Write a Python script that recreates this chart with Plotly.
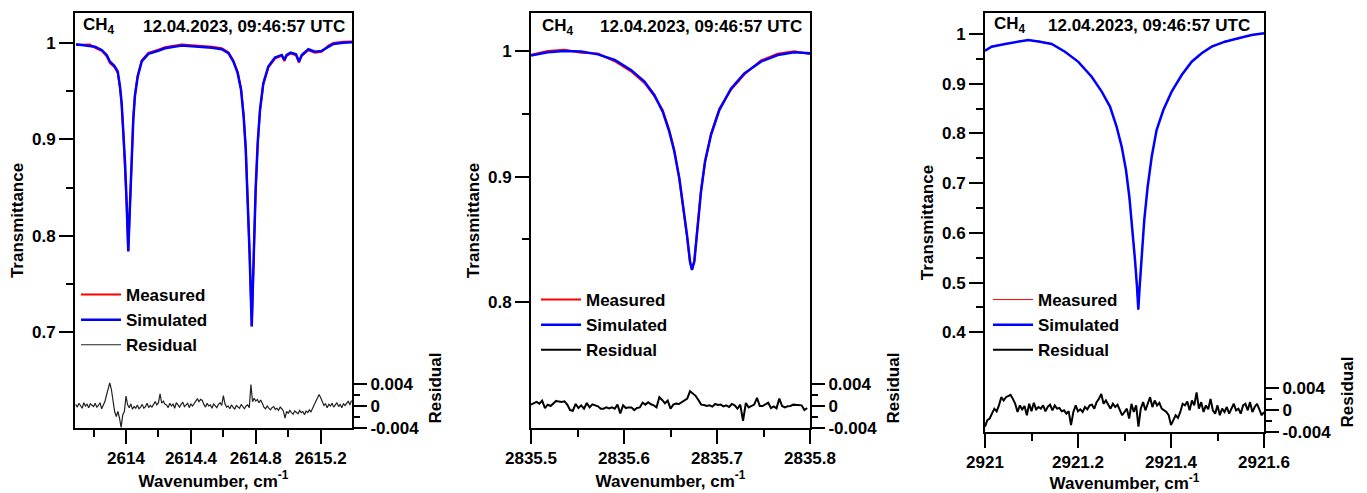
import plotly.graph_objects as go

W, H = 1367, 493

# ---------------- data ----------------
header_species = "CH<sub>4</sub>"
header_time = "12.04.2023, 09:46:57 UTC"
legend_names = ["Measured", "Simulated", "Residual"]

# Panel 1 (2613.7 - 2615.4 cm-1)
wn1 = [2613.692, 2613.778, 2613.809, 2613.850, 2613.881, 2613.901, 2613.928, 2613.949,
       2613.963, 2613.973, 2613.983, 2613.994, 2614.004, 2614.014, 2614.025, 2614.035,
       2614.045, 2614.055, 2614.072, 2614.097, 2614.138, 2614.199, 2614.240, 2614.343,
       2614.400, 2614.466, 2614.530, 2614.590, 2614.631, 2614.661, 2614.688, 2614.709,
       2614.725, 2614.738, 2614.750, 2614.762, 2614.775, 2614.787, 2614.799, 2614.812,
       2614.826, 2614.846, 2614.877, 2614.918, 2614.960, 2614.976, 2614.990, 2615.015,
       2615.048, 2615.066, 2615.083, 2615.124, 2615.165, 2615.206, 2615.247, 2615.278,
       2615.339, 2615.393]
sim1 = [0.9987, 0.9972, 0.9962, 0.9928, 0.9876, 0.9807, 0.9763, 0.9705,
        0.9550, 0.9380, 0.9100, 0.8760, 0.8340, 0.7840, 0.8340, 0.8830,
        0.9210, 0.9450, 0.9650, 0.9810, 0.9887, 0.9920, 0.9945, 0.9973,
        0.9968, 0.9962, 0.9950, 0.9935, 0.9894, 0.9810, 0.9690, 0.9515,
        0.9240, 0.8900, 0.8420, 0.7800, 0.7060, 0.7800, 0.8480, 0.8970,
        0.9310, 0.9580, 0.9756, 0.9850, 0.9876, 0.9825, 0.9876, 0.9900,
        0.9883, 0.9807, 0.9876, 0.9935, 0.9910, 0.9918, 0.9962, 0.9990,
        1.0003, 1.0007]
meas1 = [0.9980, 0.9985, 0.9950, 0.9918, 0.9862, 0.9790, 0.9752, 0.9690,
         0.9532, 0.9365, 0.9085, 0.8748, 0.8325, 0.7838, 0.8352, 0.8845,
         0.9222, 0.9462, 0.9664, 0.9822, 0.9898, 0.9931, 0.9956, 0.9984,
         0.9978, 0.9973, 0.9961, 0.9946, 0.9905, 0.9822, 0.9702, 0.9528,
         0.9252, 0.8912, 0.8432, 0.7810, 0.7062, 0.7812, 0.8468, 0.8958,
         0.9298, 0.9568, 0.9744, 0.9838, 0.9866, 0.9812, 0.9866, 0.9890,
         0.9872, 0.9796, 0.9866, 0.9925, 0.9900, 0.9908, 0.9972, 1.0001,
         1.0014, 1.0016]
# residual, units of 1e-4, sampled every 0.01 cm-1 from 2613.69
res1_start, res1_step = 2613.69, 0.01
res1_e4 = [3, -2, 5, 1, -4, 6, 0, 3, -3, 4, 2, -1, 5, -2, 1, 6, -5, 2,
           8, 20, 30, 42, 30, 12, -10, -19, -10, -22, -39, -16, -10, 18, 2,
           -3, 4, -6, -1, -4, 2, -5, -2, 3, -4, -1, 5, -3, 1, -2,
           4, 8, 2, 6, 22, 5, 9, 3,
           2, -3, 5, 0, 4, -4, 6, 1, -2, 3, 7, -1, 2, 5, -3, 4, 0, 6,
           9, 13, 8, 12, 10,
           3, -2, 5, 0, 2, -4, 4, 1, -3, 3, 6, 1,
           19,
           4, -2, 0, -5, 2, -3, -6, 1, -2, -4, 3, -1, -5, 0, 2, -3,
           39,
           8, 14, 9, 12, 6, 11, 5,
           -2, -5, 0, -4, -7, -3, -1, -6, -4, -8, -2, -5, -9,
           -22,
           -10, -13, -8, -12, -15, -9, -11, -14, -8, -12, -10, -16, -9, -12, -7, -11,
           -4, 2, 8, 14,
           21, 15,
           6, 1, 4, -3, 3, 0, 5, -2, 2, 6, -1, 3, -3, 4, 1, 5, 9, 2, 10]

# Panel 2 (2835.5 - 2835.8 cm-1)
wn2 = [2835.5000, 2835.5180, 2835.5360, 2835.5540, 2835.5720, 2835.5900, 2835.6075,
       2835.6220, 2835.6326, 2835.6416, 2835.6487, 2835.6541, 2835.6595, 2835.6642,
       2835.6677, 2835.6710, 2835.6731, 2835.6756, 2835.6792, 2835.6828, 2835.6871,
       2835.6935, 2835.7025, 2835.7150, 2835.7294, 2835.7473, 2835.7653, 2835.7831,
       2835.8000]
sim2 = [0.9963, 0.9990, 1.0000, 0.9995, 0.9973, 0.9928, 0.9849,
        0.9756, 0.9650, 0.9517, 0.9358, 0.9200, 0.8987, 0.8749,
        0.8536, 0.8324, 0.8258, 0.8324, 0.8590, 0.8880, 0.9120,
        0.9330, 0.9530, 0.9700, 0.9822, 0.9915, 0.9968, 0.9990,
        0.9982]
meas2 = [0.9970, 1.0000, 1.0009, 0.9985, 0.9980, 0.9918, 0.9838,
         0.9745, 0.9640, 0.9530, 0.9370, 0.9212, 0.8978, 0.8740,
         0.8528, 0.8316, 0.8262, 0.8332, 0.8598, 0.8890, 0.9110,
         0.9342, 0.9540, 0.9690, 0.9812, 0.9925, 0.9978, 0.9998,
         0.9975]
res2_start, res2_step = 2835.500, 0.003
res2_e4 = [2.5, 5.5, 7.4, 4.3, 9.8, -3.7, 2.5, 0, 5.5, 9.2,
           8, 7.4, 8.6, 2.5, -7.4, -8.6, 3.7, -3.7, 1.2, -4.9,
           5.5, -2.5, 3.1, 1.8, -0.6, -4.9, -4.9, -2.5, -4.3, -2.5,
           -4.9, 2.5, -13.5, 1.2, -3.7, -2.5, -2.5, -7.4, -3.7, -2.5,
           6.2, 2.5, 6.8, 3.1, 1.2, -2.5, 16, 11, 4.9, 9.8,
           -4.9, 2.5, 4.3, 3.7, 7.4, 11, 13.5, 27, 23.4, 18.5,
           11, 2.5, 1.8, 0, 1.2, -1.2, 3.7, 1.8, 2.5, -0.6,
           1.2, -1.8, 3.7, 1.2, -4.9, 2.5, -27, 5.5, -2.5, 0,
           2.5, 14.8, 0, 0, 2.5, 6.2, -3.7, -0.6, -4.3, 13.5,
           0, -2.5, -0.6, 0, 2.5, 2.5, 1.8, 1.2, -7.4, -3.7]

# Panel 3 (2921.0 - 2921.6 cm-1)
wn3 = [2921.0000, 2921.0143, 2921.0430, 2921.0717, 2921.0930, 2921.1180, 2921.1434,
       2921.1720, 2921.2007, 2921.2294, 2921.2510, 2921.2688, 2921.2830, 2921.2940,
       2921.3032, 2921.3104, 2921.3168, 2921.3226, 2921.3269, 2921.3297, 2921.3326,
       2921.3370, 2921.3425, 2921.3498, 2921.3585, 2921.3690, 2921.3835, 2921.4014,
       2921.4230, 2921.4445, 2921.4660, 2921.4875, 2921.5160, 2921.5447, 2921.5735,
       2921.6000]
sim3 = [0.9664, 0.9745, 0.9800, 0.9840, 0.9880, 0.9845, 0.9800,
        0.9644, 0.9440, 0.9140, 0.8840, 0.8540, 0.8135, 0.7734,
        0.7264, 0.6727, 0.6123, 0.5453, 0.4916, 0.4460, 0.4916,
        0.5587, 0.6258, 0.6928, 0.7531, 0.8068, 0.8470, 0.8840,
        0.9175, 0.9443, 0.9611, 0.9745, 0.9845, 0.9913, 0.9980,
        1.0013]
meas3 = [0.9650, 0.9760, 0.9790, 0.9852, 0.9872, 0.9856, 0.9790,
         0.9632, 0.9452, 0.9128, 0.8852, 0.8528, 0.8148, 0.7722,
         0.7276, 0.6715, 0.6135, 0.5441, 0.4928, 0.4448, 0.4928,
         0.5575, 0.6270, 0.6916, 0.7543, 0.8056, 0.8482, 0.8828,
         0.9187, 0.9431, 0.9623, 0.9733, 0.9857, 0.9901, 0.9990,
         1.0005]
res3_start, res3_step = 2921.000, 0.005
res3_e4 = [-30.4, -18.5, -15.5, -6.6, 2.4, -2.4, 8.4, 23.3, 17.3, 23.3,
           25.1, 27.5, 20.3, 11.3, -3.6, 8.4, 1.2, 7.2, -9.6, 11.3,
           -2.4, 13.1, 1.2, 5.4, 2.4, 8.4, -2.4, 6, 9.6, -0.6,
           8.4, 2.4, 3.6, -2.4, -0.6, -6.6, -2.4, -27.5, -3.6, 8.4,
           -2.4, 1.2, -3.6, 5.4, 1.2, 8.4, 9.6, 2.4, 14.3, 20.3,
           29.3, 11.3, 17.3, 8.4, 2.4, 11.3, 5.4, 9.6, -0.6, -9.6,
           -3.6, 2.4, -15.5, 11.3, -3.6, 8.4, -30.4, 2.4, 14.3, -0.6,
           11.3, 23.3, 5.4, 17.3, 8.4, 13.1, 2.4, -0.6, -3.6, -9.6,
           -27.5, -18.5, -9.6, -14.3, -3.6, 11.3, 8.4, 15.5, -0.6, 17.3,
           8.4, 32.2, 2.4, 14.3, -3.6, 8.4, 1.2, 20.3, -0.6, -6.6,
           8.4, -9.6, 2.4, -3.6, 5.4, -6.6, 2.4, 11.3, -0.6, 2.4,
           -6.6, 8.4, 11.3, -0.6, 14.3, -3.6, 5.4, 11.3, 1.2, -9.6,
           -3.6]

# axis ticks
x1_ticks, x1_labels, x1_minor = [2614, 2614.4, 2614.8, 2615.2], ["2614", "2614.4", "2614.8", "2615.2"], [2613.8, 2614.2, 2614.6, 2615.0, 2615.4]
x2_ticks, x2_labels, x2_minor = [2835.5, 2835.6, 2835.7, 2835.8], ["2835.5", "2835.6", "2835.7", "2835.8"], [2835.55, 2835.65, 2835.75]
x3_ticks, x3_labels, x3_minor = [2921, 2921.2, 2921.4, 2921.6], ["2921", "2921.2", "2921.4", "2921.6"], [2921.1, 2921.3, 2921.5]
y1_ticks, y1_labels, y1_minor = [0.7, 0.8, 0.9, 1.0], ["0.7", "0.8", "0.9", "1"], [0.75, 0.85, 0.95]
y2_ticks, y2_labels, y2_minor = [0.8, 0.9, 1.0], ["0.8", "0.9", "1"], [0.85, 0.95]
y3_ticks, y3_labels, y3_minor = [0.4, 0.5, 0.6, 0.7, 0.8, 0.9, 1.0], ["0.4", "0.5", "0.6", "0.7", "0.8", "0.9", "1"], [0.45, 0.55, 0.65, 0.75, 0.85, 0.95]
r_ticks, r_labels, r_minor = [-0.004, 0, 0.004], ["-0.004", "0", "0.004"], [-0.002, 0.002]

# ---------------- figure ----------------
FONT = dict(family="Liberation Sans, Arial, sans-serif", size=17, color="black", weight="bold")

panels = [
    dict(wn=wn1, sim=sim1, meas=meas1, r=res1_e4, r0=res1_start, dr=res1_step,
         xdom=(75, 352), ybot=428, xr=(2613.6857, 2615.3929), yr=(0.6007, 1.0311),
         xt=(x1_ticks, x1_labels, x1_minor), yt=(y1_ticks, y1_labels, y1_minor),
         wm=2, ws=2.5, wr=1.2, rcol="#222222", leg=(76, 277), ch=0.022, tm=0.982, hy=26),
    dict(wn=wn2, sim=sim2, meas=meas2, r=res2_e4, r0=res2_start, dr=res2_step,
         xdom=(531, 810), ybot=428, xr=(2835.5, 2835.8), yr=(0.70, 1.0302),
         xt=(x2_ticks, x2_labels, x2_minor), yt=(y2_ticks, y2_labels, y2_minor),
         wm=2, ws=2.5, wr=2, rcol="black", leg=(536, 282), ch=0.034, tm=0.9785, hy=27),
    dict(wn=wn3, sim=sim3, meas=meas3, r=res3_e4, r0=res3_start, dr=res3_step,
         xdom=(985, 1264), ybot=432, xr=(2921.0, 2921.6), yr=(0.1995, 1.0422),
         xt=(x3_ticks, x3_labels, x3_minor), yt=(y3_ticks, y3_labels, y3_minor),
         wm=1, ws=2.5, wr=2, rcol="black", leg=(988, 282), ch=0.0256, tm=0.956, hy=25.5),
]

fig = go.Figure()
layout = {}
annotations = []
for i, p in enumerate(panels, start=1):
    xa = "x" if i == 1 else f"x{i}"
    ya = "y" if i == 1 else f"y{i}"
    yr_name = f"y{i + 3}"
    legname = "legend" if i == 1 else f"legend{i}"
    res = [v * 1e-4 for v in p["r"]]
    fig.add_trace(go.Scatter(x=p["wn"], y=p["meas"], mode="lines", name=legend_names[0],
                             line=dict(color="red", width=p["wm"]), xaxis=xa, yaxis=ya, legend=legname))
    fig.add_trace(go.Scatter(x=p["wn"], y=p["sim"], mode="lines", name=legend_names[1],
                             line=dict(color="blue", width=p["ws"]), xaxis=xa, yaxis=ya, legend=legname))
    fig.add_trace(go.Scatter(x0=p["r0"], dx=p["dr"], y=res, mode="lines", name=legend_names[2],
                             line=dict(color=p["rcol"], width=p["wr"]), xaxis=xa, yaxis=yr_name, legend=legname))

    xdom = [p["xdom"][0] / W, p["xdom"][1] / W]
    ydom = [1 - p["ybot"] / H, 1 - 13 / H]
    rdom = [1 - p["ybot"] / H, 1 - (p["ybot"] - 80) / H]
    axbase = dict(showgrid=False, zeroline=False, ticks="outside", ticklen=14, tickwidth=2,
                  tickcolor="black", tickfont=FONT, tickmode="array", automargin=False)
    xt, xl, xm = p["xt"]
    yt, yl, ym = p["yt"]
    layout["xaxis" if i == 1 else f"xaxis{i}"] = dict(
        axbase, domain=xdom, anchor=ya, range=list(p["xr"]), tickvals=xt, ticktext=xl,
        minor=dict(tickvals=xm, ticks="outside", ticklen=7, tickwidth=2, tickcolor="black"),
        showline=True, linewidth=2, linecolor="black", mirror=True,
        title=dict(text="Wavenumber, cm<sup>-1</sup>", font=FONT, standoff=0))
    layout["yaxis" if i == 1 else f"yaxis{i}"] = dict(
        axbase, domain=ydom, anchor=xa, range=list(p["yr"]), tickvals=yt, ticktext=yl,
        minor=dict(tickvals=ym, ticks="outside", ticklen=7, tickwidth=2, tickcolor="black"),
        showline=True, linewidth=2, linecolor="black", mirror=True,
        title=dict(text="Transmittance", font=FONT, standoff=4))
    layout[f"yaxis{i + 3}"] = dict(
        axbase, domain=rdom, anchor=xa, side="right", range=[-0.004, 0.01055],
        tickvals=r_ticks, ticktext=r_labels,
        minor=dict(tickvals=r_minor, ticks="outside", ticklen=7, tickwidth=2, tickcolor="black"),
        showline=False, title=dict(text="Residual", font=FONT, standoff=10))
    layout[legname] = dict(x=p["leg"][0] / W, y=1 - p["leg"][1] / H, xanchor="left", yanchor="top",
                           bgcolor="rgba(0,0,0,0)", font=FONT, borderwidth=0, itemwidth=40)
    annotations.append(dict(text=header_species, xref=f"{xa} domain", yref="paper",
                            x=p["ch"], y=1 - p["hy"] / H, xanchor="left", yanchor="middle",
                            showarrow=False, font=FONT))
    annotations.append(dict(text=header_time, xref=f"{xa} domain", yref="paper",
                            x=p["tm"], y=1 - p["hy"] / H, xanchor="right", yanchor="middle",
                            showarrow=False, font=FONT))

fig.update_layout(**layout)
fig.update_layout(width=W, height=H, margin=dict(l=0, r=0, t=0, b=0, autoexpand=False),
                  paper_bgcolor="white", plot_bgcolor="rgba(0,0,0,0)",
                  font=FONT, showlegend=True, annotations=annotations)

fig.write_html("out.html")
